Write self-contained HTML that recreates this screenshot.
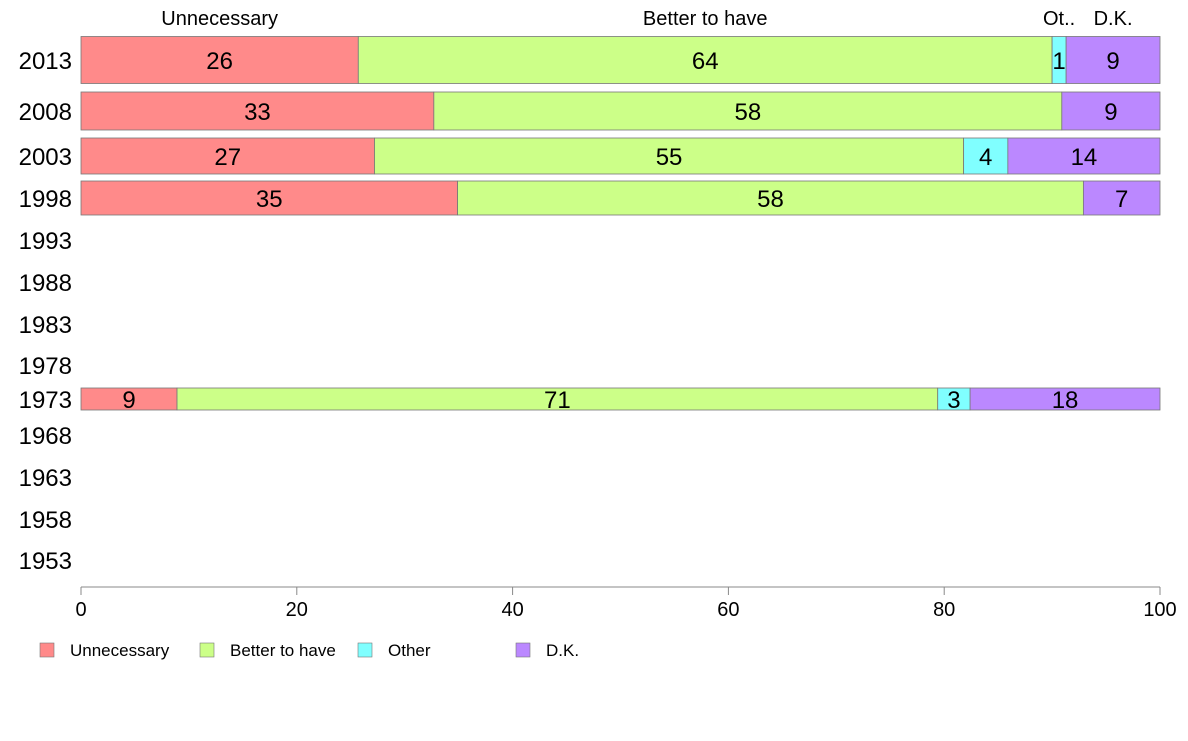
<!DOCTYPE html>
<html><head><meta charset="utf-8"><style>
body{margin:0;background:#fff;font-family:"Liberation Sans",Arial,sans-serif}
</style></head><body>
<svg id="chart" width="1188" height="736" xmlns="http://www.w3.org/2000/svg" font-family="Liberation Sans, Arial, sans-serif"></svg>
<script>
const categories = ["Unnecessary","Better to have","Other","D.K."];
const years = ["2013","2008","2003","1998","1993","1988","1983","1978","1973","1968","1963","1958","1953"];
const unnecessary = [25.7,32.7,27.2,34.9,null,null,null,null,8.9,null,null,null,null];
const betterToHave = [64.3,58.2,54.6,58.0,null,null,null,null,70.5,null,null,null,null];
const other = [1.3,0,4.1,0,null,null,null,null,3.0,null,null,null,null];
const dk = [8.7,9.1,14.1,7.1,null,null,null,null,17.6,null,null,null,null];
const printed = [["26","64","1","9"],["33","58","","9"],["27","55","4","14"],["35","58","","7"],null,null,null,null,["9","71","3","18"],null,null,null,null];
const xTicks = [0,20,40,60,80,100];
const topLabels = ["Unnecessary","Better to have","Ot..","D.K."];

const colors = ["#ff8a8a","#ccff88","#80ffff","#bb88ff"];
const rowCenter = [60,111,156,198,240,282,324,365,399,435,477,519,560];
const rowHeight = [47,38,36,34,0,0,0,0,22,0,0,0,0];
const x0=81,x1=1160;
const X = v => x0 + v/100*(x1-x0);
const svg = document.getElementById('chart');
const NS="http://www.w3.org/2000/svg";
function mk(tag, attrs, parent){const e=document.createElementNS(NS,tag);for(const k in attrs)e.setAttribute(k,attrs[k]);(parent||svg).appendChild(e);return e;}
const series=[unnecessary,betterToHave,other,dk];

years.forEach((y,i)=>{
  const t=mk('text',{x:72,y:rowCenter[i]+9,'text-anchor':'end','font-size':24,fill:'#000'});
  
  
  t.textContent=y;
  if(unnecessary[i]==null) return;
  let acc=0;
  series.forEach((s,k)=>{
    const v=s[i]; if(!v) {return;}
    const r=mk('rect',{x:X(acc),y:rowCenter[i]-rowHeight[i]/2,width:X(acc+v)-X(acc),height:rowHeight[i],fill:colors[k],stroke:'#777','stroke-width':0.8});
    
    
    const lbl=printed[i][k];
    if(lbl){
      const tt=mk('text',{x:(X(acc)+X(acc+v))/2,y:rowCenter[i]+9,'text-anchor':'middle','font-size':24,fill:'#000'});
      
      
      tt.textContent=lbl;
    }
    if(i===0){
      const tl=mk('text',{x:(X(acc)+X(acc+v))/2,y:25,'text-anchor':'middle','font-size':20,fill:'#000'});
      
      
      tl.textContent=topLabels[k];
    }
    acc+=v;
  });
});
// top label for D.K. adjust spacing
const ax=mk('line',{x1:x0,x2:x1,y1:587,y2:587,stroke:'#888','stroke-width':1});


xTicks.forEach(v=>{
  const l=mk('line',{x1:X(v),x2:X(v),y1:587,y2:595,stroke:'#888'});
  
  
  const t=mk('text',{x:X(v),y:616,'text-anchor':'middle','font-size':20,fill:'#000'});
  
  
  t.textContent=v;
});
const legX=[40,200,358,516];
categories.forEach((c,k)=>{
  const r=mk('rect',{x:legX[k],y:643,width:14,height:14,fill:colors[k],stroke:'#777','stroke-width':0.6});
  
  
  const t=mk('text',{x:legX[k]+30,y:656,'font-size':17,fill:'#000'});
  
  
  t.textContent=c;
});
</script>
</body></html>
